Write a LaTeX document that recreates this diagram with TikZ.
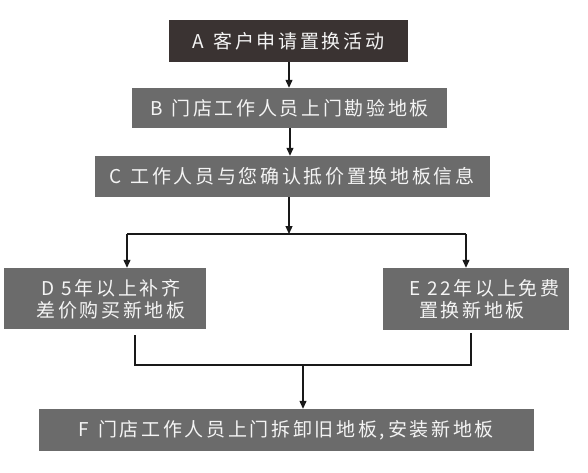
\documentclass[tikz,border=0pt]{standalone}
\usepackage{fontspec}
\setmainfont{Noto Sans CJK SC}[LetterSpace=14]
\usetikzlibrary{arrows.meta}
\definecolor{darkbox}{HTML}{3A3332}
\definecolor{graybox}{HTML}{6B6B6B}
\definecolor{boxtext}{HTML}{F4F4F4}
\tikzset{
  stepbox/.style={fill=graybox, text=boxtext, inner sep=0pt, font=\fontsize{19}{22}\selectfont},
  boxtxt/.style={text=boxtext, inner sep=0pt, font=\fontsize{19}{22}\selectfont},
  conn/.style={line width=1.2pt, draw=black!90},
  arr/.style={conn, -{Triangle[length=8pt,width=7pt]}}
}
\begin{document}
\begin{tikzpicture}[x=1pt,y=1pt]
\useasboundingbox (0,0) rectangle (588,-473);
\fill[white] (0,0) rectangle (588,-473);
% boxes
\node[stepbox, fill=darkbox, minimum width=239pt, minimum height=42pt] (A) at (288.5,-41) {A\hspace{2pt} 客户申请置换活动};
\node[stepbox, minimum width=315pt, minimum height=40pt] (B) at (289.5,-108) {B\hspace{2pt} 门店工作人员上门勘验地板};
\node[stepbox, minimum width=395pt, minimum height=41pt] (C) at (292,-176.5) {C\hspace{2pt} 工作人员与您确认抵价置换地板信息};
\node[stepbox, minimum width=202pt, minimum height=61pt] (D) at (105,-298.5) {};
\node[boxtxt, align=center] (Dt) at (111,-299) {D 5年以上补齐\\差价购买新地板};
\node[stepbox, minimum width=186pt, minimum height=62pt] (E) at (476,-299) {};
\node[boxtxt, align=left, anchor=west] (Et) at (409,-299.5) {E 22年以上免费\\\hspace*{10pt}置换新地板};
\node[stepbox, minimum width=495pt, minimum height=42pt] (F) at (286.3,-430) {F\hspace{2pt} 门店工作人员上门拆卸旧地板,\hspace{3pt}安装新地板};
% junctions
\coordinate (j1) at (289,-234);
\coordinate (jl) at (127,-234);
\coordinate (jr) at (466,-234);
\coordinate (d1) at (135,-335);
\coordinate (d2) at (135,-365);
\coordinate (e1) at (471,-333);
\coordinate (e2) at (471,-365);
\coordinate (j2) at (303,-365);
% connectors
\draw[arr] (A.south -| 289,0) -- (B.north -| 289,0);
\draw[arr] (B.south -| 290,0) -- (C.north -| 290,0);
\draw[arr] (C.south -| j1) -- (j1);
\draw[conn] (jl) -- (jr);
\draw[arr] (jl) -- (jl |- D.north);
\draw[arr] (jr) -- (jr |- E.north);
\draw[conn] (d1) -- (d2) -- (e2) -- (e1);
\draw[arr] (j2) -- (j2 |- F.north);
\end{tikzpicture}
\end{document}
